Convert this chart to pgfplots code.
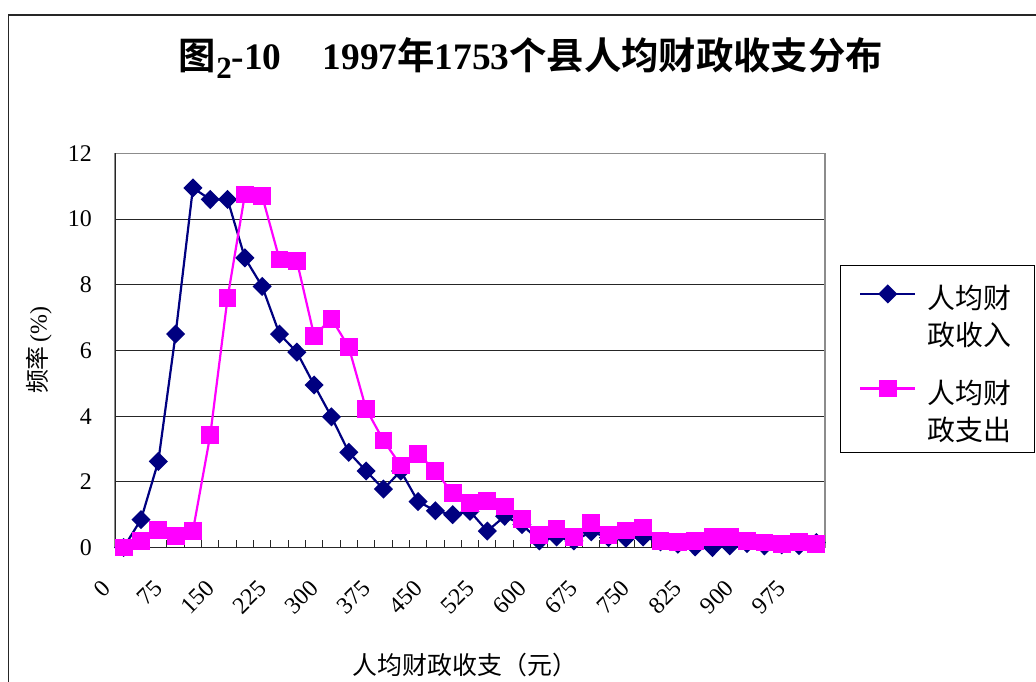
\documentclass[border=0pt]{standalone}
\usepackage{fontspec}
\setmainfont{Liberation Serif}
\newfontfamily\cjk{Noto Sans CJK SC}[BoldFont=* Bold]
\usepackage{pgfplots}
\pgfplotsset{compat=1.18}
\definecolor{incomecol}{RGB}{0,0,128}
\definecolor{spendcol}{RGB}{255,0,255}

% 人均财政收入 / 人均财政支出, frequency in %, bins of 25 yuan
\pgfplotstableread{
x    inc    exp
0    0.00   0.00
25   0.85   0.20
50   2.62   0.53
75   6.50   0.35
100  10.95  0.51
125  10.60  3.42
150  10.60  7.60
175  8.82   10.75
200  7.95   10.70
225  6.50   8.77
250  5.95   8.73
275  4.95   6.45
300  3.98   6.97
325  2.90   6.10
350  2.33   4.22
375  1.78   3.26
400  2.33   2.50
425  1.40   2.85
450  1.12   2.33
475  1.00   1.65
500  1.10   1.35
525  0.50   1.42
550  0.95   1.25
575  0.70   0.86
600  0.20   0.38
625  0.32   0.56
650  0.20   0.33
675  0.48   0.74
700  0.30   0.39
725  0.28   0.52
750  0.32   0.61
775  0.17   0.20
800  0.10   0.16
825  0.02   0.21
850  0.00   0.33
875  0.05   0.33
900  0.12   0.21
925  0.05   0.15
950  0.08   0.10
975  0.06   0.16
1000 0.15   0.10
}\datatable

\begin{document}
\begin{tikzpicture}[x=1bp,y=1bp]
\useasboundingbox (0,0) rectangle (1036,682);
\draw[line width=1.4bp, black!85] (8.3,-5) -- (8.3,667) -- (1045,667);

\node at (531,624) {\fontsize{37.5}{40}\selectfont
  {\cjk\bfseries 图}\raisebox{-0.24em}{\bfseries\fontsize{31}{32}\selectfont 2}{\bfseries -10}\hspace{1.1em}{\bfseries 1997}{\cjk\bfseries 年}{\bfseries 1753}{\cjk\bfseries 个县人均财政收支分布}};

\begin{axis}[
  at={(115bp,134.5bp)}, anchor=south west,
  width=710bp, height=394bp, scale only axis,
  xmin=-12.5, xmax=1012.5, ymin=0, ymax=12,
  xtick={0,75,...,975}, ytick={0,2,...,12},
  minor xtick={12.5,37.5,...,987.5},
  xtick pos=bottom, ytick pos=left, tick align=inside,
  major tick length=7bp, minor tick length=7bp,
  major x tick style={draw=none},
  every tick/.style={black!85, line width=1bp},
  ymajorgrids, grid style={black!85, line width=1.1bp},
  axis line style={black!45, line width=1.2bp},
  /pgf/number format/assume math mode=true,
  ticklabel style={font=\fontsize{24}{28}\selectfont, inner sep=0pt},
  yticklabel style={xshift=-23bp, anchor=east},
  xticklabel style={xshift=-23bp, yshift=-31bp, rotate=45, anchor=north east},
  xlabel={\cjk 人均财政收支（元）},
  xlabel style={font=\fontsize{25}{28}\selectfont, at={(axis description cs:0.493,0)}, anchor=center, yshift=-117.5bp},
  ylabel={{\cjk 频率}\,(\%)},
  ylabel style={font=\fontsize{24}{28}\selectfont, at={(axis description cs:0,0.501)}, anchor=center, yshift=76bp},
  legend style={at={(1.0211,0.7145)}, anchor=north west, draw=none,
    inner xsep=19bp, inner ysep=15bp, column sep=9bp, row sep=46bp,
    font=\cjk\fontsize{28}{37}\selectfont, cells={anchor=west, inner sep=0pt}},
  legend image code/.code={\draw[mark repeat=2,mark phase=2,#1] plot coordinates {(0bp,11.5bp) (27.5bp,11.5bp) (55bp,11.5bp)};},
]
\draw[black!85, line width=1.8bp] (rel axis cs:0,1) -- (rel axis cs:0,0) -- (rel axis cs:1,0);
\addplot[incomecol, line width=2.2bp, mark=diamond*, mark size=8bp, mark options={xscale=1.33, solid}] table[x=x, y=inc] {\datatable};
\addlegendentry{\begin{tabular}{@{}l@{}}人均财\\政收入\end{tabular}}
\addplot[spendcol, line width=2.2bp, mark=square*, mark size=7.8bp, mark options={solid}] table[x=x, y=exp] {\datatable};
\addlegendentry{\begin{tabular}{@{}l@{}}人均财\\政支出\end{tabular}}
\end{axis}
\draw[black, line width=1bp] (840,229) rectangle (1034.5,416);
\end{tikzpicture}
\end{document}
